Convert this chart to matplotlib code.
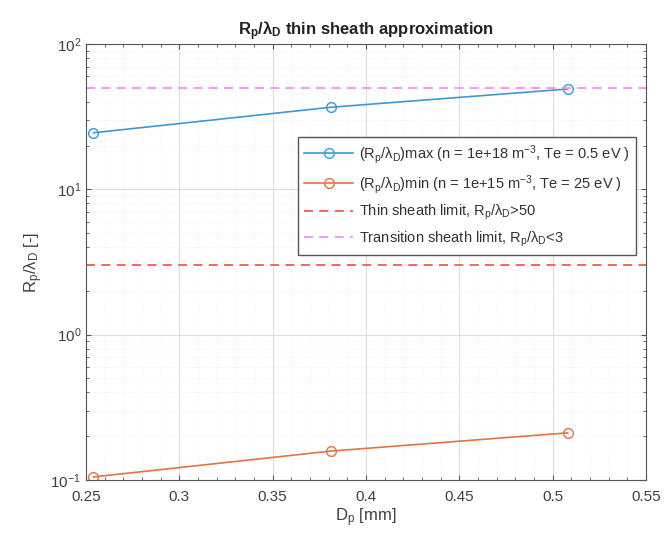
import numpy as np
import matplotlib
matplotlib.use('Agg')
import matplotlib.pyplot as plt
from matplotlib.ticker import MultipleLocator, LogLocator

plt.rcParams['font.family'] = ['Liberation Sans', 'DejaVu Sans']
plt.rcParams['mathtext.fontset'] = 'custom'
plt.rcParams['mathtext.rm'] = 'Liberation Sans'
plt.rcParams['mathtext.it'] = 'Liberation Sans'
plt.rcParams['mathtext.bf'] = 'Liberation Sans:bold'

# probe diameter [mm] and Rp/lambda_D values
d_p = [0.254, 0.381, 0.508]
ratio_max = [24.5, 36.7, 49.0]
ratio_min = [0.105, 0.158, 0.211]
thin_limit = 3
transition_limit = 50

lab_max = r'(R$_\mathregular{p}$/λ$_\mathregular{D}$)max (n = 1e+18 m$^\mathregular{-3}$, Te = 0.5 eV )'
lab_min = r'(R$_\mathregular{p}$/λ$_\mathregular{D}$)min (n = 1e+15 m$^\mathregular{-3}$, Te = 25 eV )'
lab_thin = r'Thin sheath limit, R$_\mathregular{p}$/λ$_\mathregular{D}$>50'
lab_trans = r'Transition sheath limit, R$_\mathregular{p}$/λ$_\mathregular{D}$<3'

fig = plt.figure(figsize=(6.64, 5.42), dpi=100)
ax = fig.add_axes([0.1295, 0.1144, 0.8435, 0.8044])

ax.plot(d_p, ratio_max, '-o', color='#3f97d3', mfc='none', ms=7, lw=1.2, label=lab_max)
ax.plot(d_p, ratio_min, '-o', color='#e07544', mfc='none', ms=7, lw=1.2, label=lab_min)
ax.axhline(thin_limit, ls=(0, (5, 3.5)), color='#f25a5a', lw=1.3, label=lab_thin)
ax.axhline(transition_limit, ls=(0, (5, 3.5)), color='#f590f0', lw=1.3, label=lab_trans)

ax.set_yscale('log')
ax.set_xlim(0.25, 0.55)
ax.set_ylim(0.1, 100)
ax.xaxis.set_major_locator(MultipleLocator(0.05))
ax.xaxis.set_minor_locator(MultipleLocator(0.01))
ax.yaxis.set_minor_locator(LogLocator(base=10, subs=np.arange(2, 10)))
ax.set_xticklabels([f'{v:g}' for v in ax.get_xticks()])

ax.grid(True, which='major', color='#dcdcdc', lw=0.7)
ax.grid(True, which='minor', color='#ececec', lw=0.6, ls=':')
ax.tick_params(which='both', direction='in', top=True, right=True, colors='#555555',
               labelcolor='#404040', labelsize=11)
ax.tick_params(axis='x', pad=7)
ax.tick_params(which='minor', length=2)
for s in ax.spines.values():
    s.set_color('#555555')

ax.set_xlabel(r'D$_\mathregular{p}$ [mm]', fontsize=12, color='#404040', labelpad=2)
ax.set_ylabel(r'R$_\mathregular{p}$/λ$_\mathregular{D}$ [-]', fontsize=12, color='#404040')
ax.set_title(r'R$_\mathbf{p}$/λ$_\mathbf{D}$ thin sheath approximation', fontsize=12,
             fontweight='bold', color='#222222')

leg = ax.legend(loc='upper right', bbox_to_anchor=(0.982, 0.787), fontsize=10.5,
                fancybox=False, framealpha=1, edgecolor='#555555', labelcolor='#333333',
                handlelength=3.4, handletextpad=0.4, borderpad=0.4, labelspacing=0.5,
                borderaxespad=0)

fig.savefig('out.png', dpi=100)
